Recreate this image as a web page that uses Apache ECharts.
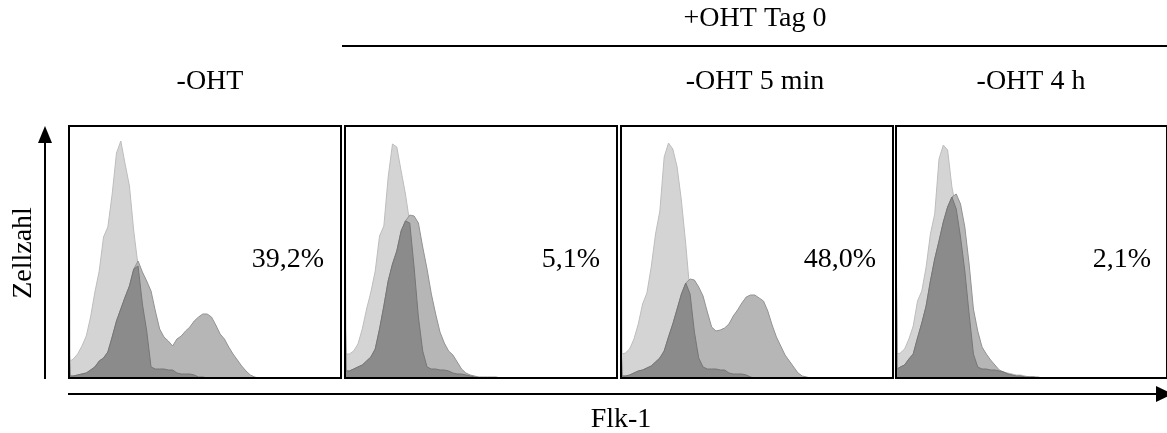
<!DOCTYPE html>
<html><head><meta charset="utf-8">
<script src="https://cdn.jsdelivr.net/npm/echarts@6/dist/echarts.min.js"></script>
<style>html,body{margin:0;padding:0;background:#fff}#c{width:1167px;height:433px}</style>
</head><body><div id="c"></div><script>
// channel positions: spike at 0, then 0.25, then bins 1..63
const channels = [0, 0.25];
for (let k = 1; k <= 63; k++) channels.push(k);

const panelTitles = ['-OHT', '', '-OHT 5 min', '-OHT 4 h'];
const groupTitle = '+OHT Tag 0';
const percentLabels = ['39,2%', '5,1%', '48,0%', '2,1%'];
const yLabel = 'Zellzahl';
const xLabel = 'Flk-1';

// light = control histogram, medium = Flk-1 stained, dark = overlap of both
const light1 = [210,17, 19,24,32,42,61,86,107,141,151,184,225,237,214,192,147,112,74,47,11,9,9,9,8,8,5,4,4,4,3,1,1];
const medium1 = [41,2, 2,3,4,5,8,11,17,20,26,41,57,69,81,92,109,117,106,97,87,67,49,41,37,32,39,42,47,51,57,61,64,64,61,53,44,39,31,24,18,12,7,3,1];
const dark1 = [41,2, 2,3,4,5,8,11,17,20,26,41,57,69,81,92,109,112,74,47,11,9,9,9,8,8,5,4,4,4,3,1,1];

const light2 = [210,24, 24,27,34,49,69,86,107,142,152,201,234,231,207,184,155,111,61,27,11,9,9,8,8,7,5,4,4,3,2,1];
const medium2 = [85,7, 7,9,11,13,17,21,29,49,72,97,114,127,147,157,163,162,155,131,109,84,64,46,35,27,23,16,9,5,3,2,1,1,1,1,1];
const dark2 = [85,7, 7,9,11,13,17,21,29,49,72,97,114,127,147,157,155,111,61,27,11,9,9,8,8,7,5,4,4,3,2,1];

const light3 = [210,24, 25,29,39,54,74,85,111,144,167,221,235,229,211,177,134,84,46,20,11,9,9,9,8,8,5,4,4,4,3,1];
const medium3 = [40,2, 2,3,5,7,8,10,12,16,20,27,41,54,69,84,95,99,98,91,82,66,51,47,48,50,54,62,68,75,81,83,83,80,77,67,53,41,32,23,17,11,5,2,1];
const dark3 = [40,2, 2,3,5,7,8,10,12,16,20,27,41,54,69,84,95,84,46,20,11,9,9,9,8,8,5,4,4,4,3,1];

const light4 = [210,24, 25,29,39,52,77,87,111,144,164,219,233,228,191,169,141,107,64,24,11,9,9,8,8,7,6,5,4,3,3,2,1,1];
const medium4 = [170,9, 11,13,19,24,40,55,72,97,119,137,156,171,181,184,174,151,114,69,47,31,24,18,13,8,6,4,3,2,2,1,1,1,1];
const dark4 = [170,9, 11,13,19,24,40,55,72,97,119,137,156,171,181,169,141,107,64,24,11,9,9,8,8,7,6,4,3,2,2,1,1,1];

const panels = [
  [light1, medium1, dark1],
  [light2, medium2, dark2],
  [light3, medium3, dark3],
  [light4, medium4, dark4]
];

// layout
const panelLeft = [69, 345, 621, 896];
const panelWidth = 272;
const panelTop = 126;
const panelHeight = 252;
const FONT = '28px "Liberation Serif", "Times New Roman", serif';

function toPairs(arr) {
  return channels.map((c, i) => [c, i < arr.length ? arr[i] : 0]);
}

const fills = ['#d4d4d4', '#b6b6b6', '#8b8b8b'];
const strokes = ['#bdbdbd', '#939393', '#767676'];

const grid = [], xAxis = [], yAxis = [], series = [];
panels.forEach((p, g) => {
  grid.push({left: panelLeft[g], top: panelTop, width: panelWidth, height: panelHeight,
    show: true, borderColor: '#000', borderWidth: 2, backgroundColor: 'transparent', z: 10});
  xAxis.push({type: 'value', gridIndex: g, min: 0, max: 63, show: false});
  yAxis.push({type: 'value', gridIndex: g, min: 0, max: 252, show: false});
  p.forEach((arr, s) => {
    series.push({type: 'line', xAxisIndex: g, yAxisIndex: g, data: toPairs(arr),
      symbol: 'none', silent: true, z: 2 + s, animation: false,
      lineStyle: {color: strokes[s], width: 1},
      areaStyle: {color: fills[s], opacity: 1}});
  });
});

function txt(text, x, y, align, extra) {
  return Object.assign({type: 'text', z: 100, x: x, y: y,
    style: {text: text, x: 0, y: 0, font: FONT, fill: '#000',
      align: align, verticalAlign: 'middle', textAlign: align, textVerticalAlign: 'middle'}}, extra || {});
}

const graphic = [];
graphic.push(txt(groupTitle, 755, 19, 'center'));
graphic.push({type: 'line', z: 100, shape: {x1: 342, y1: 46, x2: 1167, y2: 46}, style: {stroke: '#000', lineWidth: 2}});
const titleX = [210, 0, 755, 1031];
panelTitles.forEach((t, i) => { if (t) graphic.push(txt(t, titleX[i], 81.5, 'center')); });
percentLabels.forEach((t, i) => graphic.push(txt(t, panelLeft[i] + panelWidth - 17, 260, 'right')));
// y arrow
graphic.push({type: 'line', z: 100, shape: {x1: 45, y1: 379, x2: 45, y2: 138}, style: {stroke: '#000', lineWidth: 2}});
graphic.push({type: 'polygon', z: 100, shape: {points: [[45, 126], [38, 143], [52, 143]]}, style: {fill: '#000'}});
// x arrow
graphic.push({type: 'line', z: 100, shape: {x1: 68, y1: 394, x2: 1160, y2: 394}, style: {stroke: '#000', lineWidth: 2}});
graphic.push({type: 'polygon', z: 100, shape: {points: [[1173, 394], [1156, 386], [1156, 402]]}, style: {fill: '#000'}});
graphic.push(txt(xLabel, 621, 420, 'center'));
graphic.push(txt(yLabel, 24, 253, 'center', {rotation: Math.PI / 2}));

const chart = echarts.init(document.getElementById('c'), null, {renderer: 'canvas'});
chart.setOption({animation: false, grid: grid, xAxis: xAxis, yAxis: yAxis, series: series, graphic: graphic});
</script></body></html>
